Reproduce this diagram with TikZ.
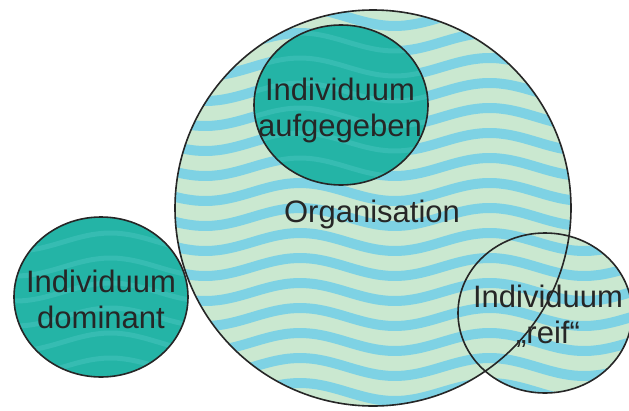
\documentclass[tikz,border=0pt]{standalone}
\usepackage{fontspec}
\setmainfont{Liberation Sans}
\definecolor{wavecyan}{RGB}{126,210,228}
\definecolor{wavepale}{RGB}{202,232,208}
\definecolor{ringteal}{RGB}{36,180,166}
\definecolor{tealwave}{RGB}{54,188,178}
\definecolor{inkgray}{RGB}{38,38,38}
\tikzset{
  ringline/.style = {draw=inkgray, line width=1.6pt},
  circtext/.style = {align=center, text=inkgray, inner sep=0pt,
                     font=\fontsize{31}{36}\selectfont},
  wave/.style     = {line width=10pt, wavecyan},
  tealstripe/.style = {line width=5pt, tealwave}
}
\newcommand{\wavestripes}[1]{%
  \foreach \yy in {-8,17,...,430}
    \draw[#1] plot[domain=0:640, samples=50, smooth]
      (\x,{\yy+9*sin(1.9*\x+60)});}

\begin{document}
\begin{tikzpicture}[x=1pt, y=-1pt]
\fill[white] (0,0) rectangle (629,410);
\useasboundingbox (0,0) rectangle (629,410);

\coordinate (org)   at (373,208);
\coordinate (given) at (341,105);
\coordinate (dom)   at (101,297);
\coordinate (ripe)  at (545,313);

% organisation and the mature individual share the wavy fill
\begin{scope}
  \clip (org) circle [radius=198]
        (ripe) ellipse [x radius=87, y radius=80];
  \fill[wavepale] (0,0) rectangle (629,410);
  \wavestripes{wave}
\end{scope}
\draw[ringline] (org) circle [radius=198];
\draw[ringline] (ripe) ellipse [x radius=87, y radius=80];

% individual inside and individual outside
\foreach \c in {dom,given} {
  \begin{scope}
    \clip (\c) ellipse [x radius=87, y radius=80];
    \fill[ringteal] (0,0) rectangle (629,410);
    \wavestripes{tealstripe}
  \end{scope}
  \draw[ringline] (\c) ellipse [x radius=87, y radius=80];
}

\node (orgtext)   [circtext] at (372,214) {Organisation};
\node (giventext) [circtext] at (340,110) {Individuum\\aufgegeben};
\node (domtext)   [circtext] at (101,299) {Individuum\\dominant};
\node (ripetext)  [circtext] at (548,316) {Individuum\\„reif“};

\end{tikzpicture}
\end{document}
